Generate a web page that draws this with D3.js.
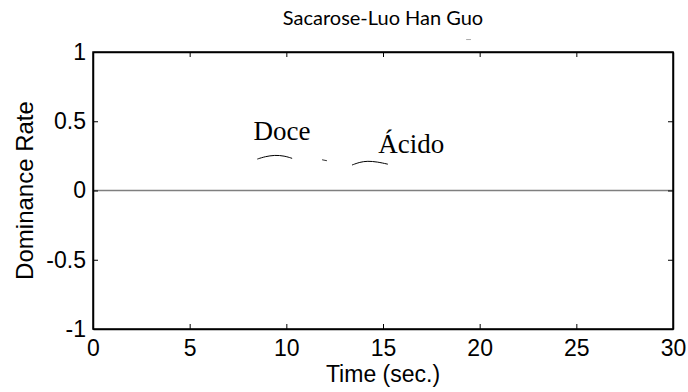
<!DOCTYPE html>
<html>
<head>
<meta charset="utf-8">
<script src="https://cdn.jsdelivr.net/npm/d3@7"></script>
<style>
  body { margin: 0; background: #fff; }
  text { fill: #000; }
</style>
</head>
<body>
<div id="chart"></div>
<script>
// dominance curves (time in sec, rate)
const doce = [[8.5, 0.227], [8.9, 0.245], [9.4, 0.256], [9.9, 0.25], [10.3, 0.232]];
const stray = [[11.85, 0.222], [12.1, 0.215]];
const acido = [[13.4, 0.184], [13.8, 0.205], [14.2, 0.213], [14.7, 0.207], [15.25, 0.19]];
const topMark = [[19.3, 1.09], [19.55, 1.09]];
const zeroLine = [[0, 0], [30, 0]];
const xTicks = [0, 5, 10, 15, 20, 25, 30];
const yTicks = [-1, -0.5, 0, 0.5, 1];
const labels = [
  { text: "Doce", x: 8.3, y: 0.365 },
  { text: "Ácido", x: 14.75, y: 0.27 }
];

const W = 688, H = 392;
const margin = { top: 52, right: 15, bottom: 63, left: 93 };
const width = W - margin.left - margin.right;
const height = H - margin.top - margin.bottom;

const svg = d3.select('#chart')
  .append('svg')
  .attr('width', W)
  .attr('height', H);

const g = svg.append('g')
  .attr('transform', `translate(${margin.left},${margin.top})`);

const x = d3.scaleLinear().domain([0, 30]).range([0, width]);
const y = d3.scaleLinear().domain([-1, 1]).range([height, 0]);

const line = d3.line().x(d => x(d[0])).y(d => y(d[1])).curve(d3.curveBasis);
const straight = d3.line().x(d => x(d[0])).y(d => y(d[1]));

// zero reference line
g.append('path').attr('d', straight(zeroLine))
  .attr('fill', 'none').attr('stroke', '#7f7f7f').attr('stroke-width', 1.6);

// curves
[doce, acido].forEach(s => {
  g.append('path').attr('d', line(s))
    .attr('fill', 'none').attr('stroke', '#000').attr('stroke-width', 1);
});
g.append('path').attr('d', straight(stray))
  .attr('fill', 'none').attr('stroke', '#333').attr('stroke-width', 1);
g.append('path').attr('d', straight(topMark))
  .attr('fill', 'none').attr('stroke', '#aaa').attr('stroke-width', 1);

// axes, ticks pointing in
const fontAxis = '"Liberation Sans", Arial, sans-serif';
const fmt = d => String(d);
const bottom = g.append('g')
  .attr('transform', `translate(0,${height})`)
  .call(d3.axisBottom(x).tickValues(xTicks).tickFormat(fmt).tickSizeInner(-5).tickSizeOuter(0).tickPadding(11));
const left = g.append('g')
  .call(d3.axisLeft(y).tickValues(yTicks).tickFormat(fmt).tickSizeInner(-5).tickSizeOuter(0).tickPadding(7));
g.append('g')
  .call(d3.axisTop(x).tickValues(xTicks).tickSizeInner(-5).tickSizeOuter(0).tickFormat(''));
g.append('g')
  .attr('transform', `translate(${width},0)`)
  .call(d3.axisRight(y).tickValues(yTicks).tickSizeInner(-5).tickSizeOuter(0).tickFormat(''));

g.selectAll('.domain').attr('stroke', '#000').attr('stroke-width', 1.5);
g.selectAll('.tick line').attr('stroke', '#000');
g.selectAll('.tick text')
  .style('font-family', fontAxis).style('font-size', '23px').attr('fill', '#000');

// frame
g.append('rect').attr('width', width).attr('height', height)
  .attr('fill', 'none').attr('stroke', '#000').attr('stroke-width', 1.5);

// curve labels
g.selectAll('.lbl').data(labels).enter().append('text')
  .attr('x', d => x(d.x)).attr('y', d => y(d.y))
  .style('font-family', '"Liberation Serif", "Times New Roman", serif')
  .style('font-size', '27px')
  .text(d => d.text);

// titles
svg.append('text')
  .attr('x', margin.left + width / 2).attr('y', 25)
  .attr('text-anchor', 'middle')
  .style('font-family', 'Lato, sans-serif').style('font-size', '20px')
  .text('Sacarose-Luo Han Guo');

svg.append('text')
  .attr('x', margin.left + width / 2).attr('y', 382)
  .attr('text-anchor', 'middle')
  .style('font-family', fontAxis).style('font-size', '23px')
  .text('Time (sec.)');

svg.append('text')
  .attr('transform', `translate(33,${margin.top + height / 2}) rotate(-90)`)
  .attr('text-anchor', 'middle')
  .style('font-family', fontAxis).style('font-size', '24px')
  .text('Dominance Rate');
</script>
</body>
</html>
